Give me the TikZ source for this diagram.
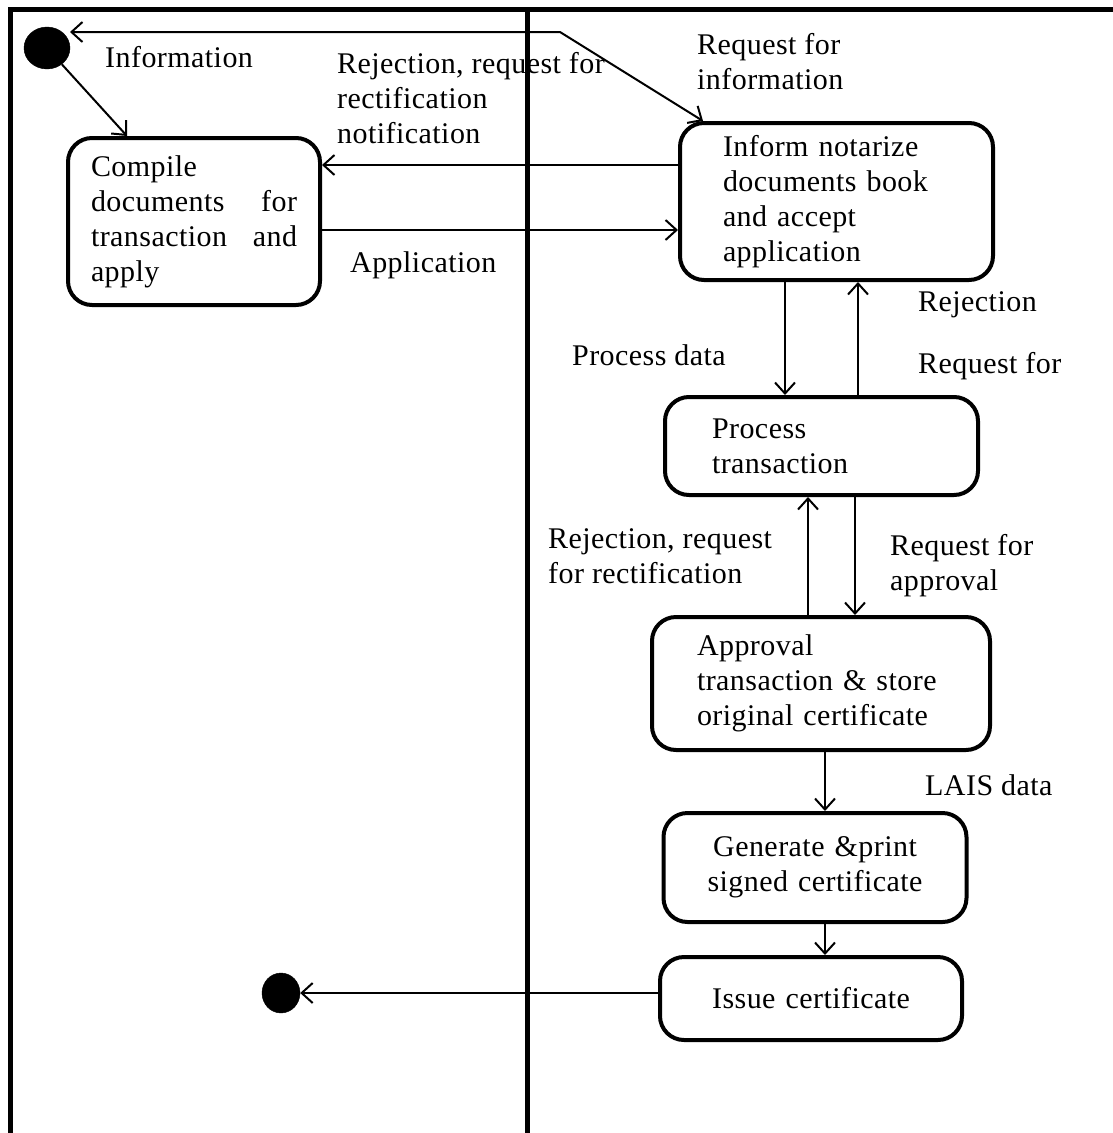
\documentclass[tikz,border=0pt]{standalone}
\usepackage{fontspec}
\setmainfont{Liberation Serif}[LetterSpace=1.5]
\usetikzlibrary{arrows.meta,shapes.geometric}
\begin{document}
\begin{tikzpicture}[x=1pt,y=-1pt,
  lbl/.style={font=\fontsize{30}{35}\selectfont, inner sep=0pt, align=left},
  act/.style={draw, line width=4pt, rounded corners=24pt, inner sep=0pt,
              font=\fontsize{30}{35}\selectfont},
  flow/.style={line width=2pt, -{Straight Barb[length=11pt,width=20pt]}},
  both/.style={line width=2pt, {Straight Barb[length=11pt,width=20pt]}-{Straight Barb[length=11pt,width=20pt]}},
  dot/.style={ellipse, fill=black, draw=black, inner sep=0pt},
  lane/.style={line width=5pt, line join=miter}]
\useasboundingbox (0,0) rectangle (1113,1133);
\fill[white] (0,0) rectangle (1113,1133);

% swimlane frame
\draw[lane] (10,1140) -- (10,9) -- (1120,9);
\draw[lane] (527,9) -- (527,1140);

% start / end
\node[dot, minimum width=46pt, minimum height=42pt] (start) at (47,48) {};
\node[dot, minimum width=38pt, minimum height=40pt] (end) at (281,993) {};

% activities
\node[act, minimum width=252pt, minimum height=167pt, text width=206pt, align=left]
  (compile) at (194,221.5) {Compile\\ documents\hfill for\\ transaction\hfill and\\ apply};
\node[act, minimum width=313pt, minimum height=157pt, text width=227pt, align=left]
  (inform) at (836.5,201.5) {Inform notarize\\ documents book\\ and accept\\ application};
\node[act, minimum width=313pt, minimum height=98pt, text width=219pt, align=left]
  (proc) at (821.5,446) {Process\\ transaction};
\node[act, minimum width=338pt, minimum height=133pt, text width=248pt, align=left]
  (appr) at (821,683.5) {Approval\\ transaction \& store\\ original certificate};
\node[act, minimum width=303pt, minimum height=109pt, text width=230pt, align=center]
  (gen) at (815,867.5) {Generate \&print\\ signed certificate};
\node[act, minimum width=302pt, minimum height=83pt, text width=230pt, align=center]
  (issue) at (811,998.5) {Issue certificate};

% routing helpers
\coordinate (kS) at (70,32);
\coordinate (kB) at (560,32);
\coordinate (xa) at (127,0);
\coordinate (ya) at (0,165);
\coordinate (yb) at (0,230);
\coordinate (xb) at (785,0);
\coordinate (xc) at (858,0);
\coordinate (xd) at (808,0);
\coordinate (xe) at (855,0);
\coordinate (xf) at (825,0);

% connectors
\draw[both] (kS) -- (kB) -- ([xshift=25pt]inform.north west);
\draw[flow] (start) -- (compile.north -| xa);
\draw[flow] (inform.west |- ya) -- (compile.east |- ya);
\draw[flow] (compile.east |- yb) -- (inform.west |- yb);
\draw[flow] (inform.south -| xb) -- (proc.north -| xb);
\draw[flow] (proc.north -| xc) -- (inform.south -| xc);
\draw[flow] (appr.north -| xd) -- (proc.south -| xd);
\draw[flow] (proc.south -| xe) -- (appr.north -| xe);
\draw[flow] (appr.south -| xf) -- (gen.north -| xf);
\draw[flow] (gen.south -| xf) -- (issue.north -| xf);
\draw[flow] (issue.west |- end) -- (end);

% labels
\node[lbl, anchor=west] (tInfo) at (105,57) {Information};
\node[lbl, anchor=west] (tRej1) at (337,98) {Rejection, request for\\ rectification\\ notification};
\node[lbl, anchor=west] (tReq1) at (697,62) {Request for\\ information};
\node[lbl, anchor=west] (tApp) at (350,265) {Application};
\node[lbl, anchor=west] (tPd) at (572,355) {Process data};
\node[lbl, anchor=west] (tRej2) at (918,305) {Rejection};
\node[lbl, anchor=west] (tReq2) at (918,366) {Request for};
\node[lbl, anchor=west] (tRej3) at (548,556) {Rejection, request\\ for rectification};
\node[lbl, anchor=west] (tReq3) at (890,566) {Request for\\ approval};
\node[lbl, anchor=west] (tLais) at (925,785) {LAIS data};
\end{tikzpicture}
\end{document}
